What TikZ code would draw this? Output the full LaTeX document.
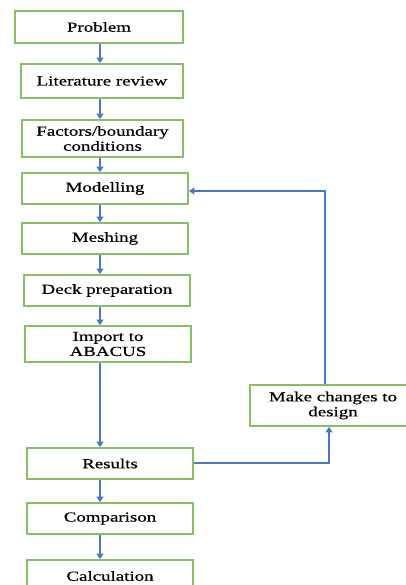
\documentclass[tikz,border=0pt]{standalone}
\usepackage{fontspec}
\usetikzlibrary{arrows.meta,calc}
\newfontfamily\boxfont[FakeStretch=1.37,FakeBold=0.5]{Liberation Serif}
\definecolor{boxgreen}{RGB}{135,192,100}
\definecolor{arrblue}{RGB}{72,118,205}
\tikzset{
  stepbox/.style={draw=boxgreen,line width=1.8pt,fill=white,inner sep=0pt,
    font={\boxfont\fontsize{13.8}{15}\selectfont},align=center,text=black},
  arr/.style={draw=arrblue,line width=2pt,-{Triangle[width=7pt,length=5.5pt]}}
}
\begin{document}
\begin{tikzpicture}[x=1pt,y=-1pt]
\useasboundingbox[fill=white] (0,0) rectangle (406,585);
\node[stepbox,minimum width=168pt,minimum height=32pt] (prob) at (99,27) {Problem};
\node[stepbox,minimum width=162pt,minimum height=34pt] (lit) at (102,81) {Literature review};
\node[stepbox,minimum width=161pt,minimum height=37pt] (fac) at (102.5,138.5) {Factors/boundary\\conditions};
\node[stepbox,minimum width=166pt,minimum height=31pt] (mod) at (105,188.5) {Modelling};
\node[stepbox,minimum width=166pt,minimum height=31pt] (mesh) at (105,238.5) {Meshing};
\node[stepbox,minimum width=166pt,minimum height=31pt] (deck) at (107,290.5) {Deck preparation};
\node[stepbox,minimum width=166pt,minimum height=36pt] (imp) at (108,344) {Import to\\ABACUS};
\node[stepbox,minimum width=166pt,minimum height=41pt] (make) at (333,405.5) {Make changes to\\design};
\node[stepbox,minimum width=166pt,minimum height=31pt] (res) at (110,463.5) {Results};
\node[stepbox,minimum width=166pt,minimum height=31pt] (comp) at (110,518.5) {Comparison};
\node[stepbox,minimum width=166pt,minimum height=32pt] (calc) at (110,576) {Calculation};
\coordinate (ax) at (100,0);
\coordinate (fbup) at (329,0);
\coordinate (fbtop) at (325,0);
\coordinate (rl) at (0,463);
\coordinate (ml) at (0,191);
\draw[arr] (ax |- prob.south) -- (ax |- lit.north);
\draw[arr] (ax |- lit.south) -- (ax |- fac.north);
\draw[arr] (ax |- fac.south) -- (ax |- mod.north);
\draw[arr] (ax |- mod.south) -- (ax |- mesh.north);
\draw[arr] (ax |- mesh.south) -- (ax |- deck.north);
\draw[arr] (ax |- deck.south) -- (ax |- imp.north);
\draw[arr] (ax |- imp.south) -- (ax |- res.north);
\draw[arr] (ax |- res.south) -- (ax |- comp.north);
\draw[arr] (ax |- comp.south) -- (ax |- calc.north);
\draw[arr] (res.east |- rl) -| (fbup |- make.south);
\draw[arr] (fbtop |- make.north) |- (mod.east |- ml);
\end{tikzpicture}
\end{document}
